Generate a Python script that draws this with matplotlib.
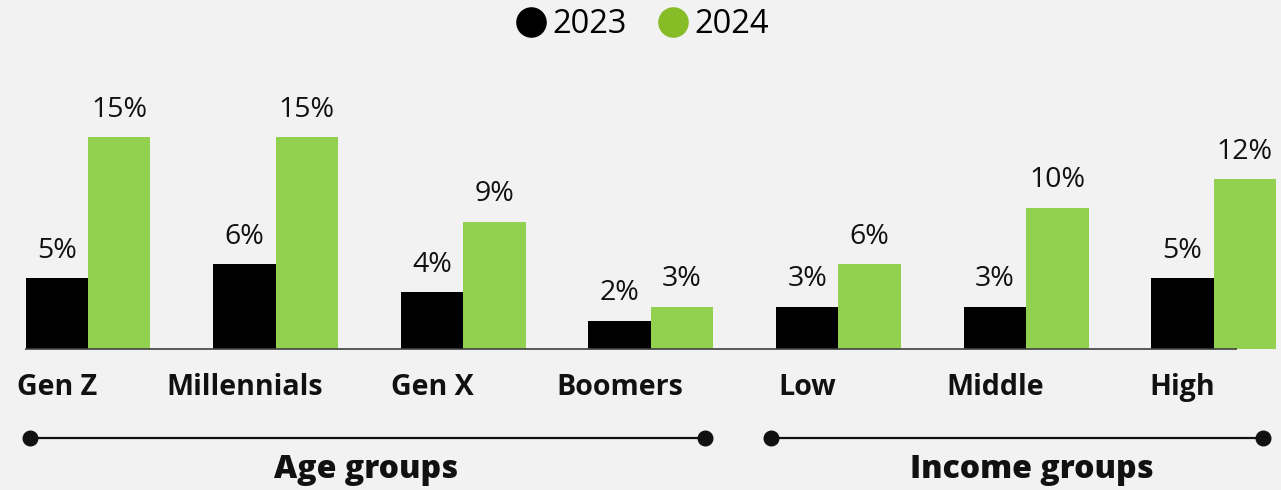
import matplotlib
matplotlib.use("Agg")
import matplotlib.pyplot as plt
from matplotlib.lines import Line2D
import numpy as np

plt.rcParams['font.family'] = ['Open Sans', 'DejaVu Sans']

categories = ["Gen Z", "Millennials", "Gen X", "Boomers", "Low", "Middle", "High"]
values_2023 = [5, 6, 4, 2, 3, 3, 5]
values_2024 = [15, 15, 9, 3, 6, 10, 12]
series_names = ["2023", "2024"]
group_names = ["Age groups", "Income groups"]

BG = "#f2f2f2"
C23 = "#000000"
C24 = "#92d050"
C24_LEG = "#86bc25"

fig = plt.figure(figsize=(12.81, 4.90), dpi=100)
fig.patch.set_facecolor(BG)
ax = fig.add_axes([0, 0, 1, 1])
ax.set_facecolor(BG)
ax.set_xlim(-0.469, 6.359)
ax.set_ylim(-9.98, 24.70)
ax.axis('off')

x = np.arange(len(categories))
w = 0.333
ax.bar(x - w, values_2023, width=w, align='edge', color=C23, zorder=2)
ax.bar(x, values_2024, width=w, align='edge', color=C24, zorder=2)

for xi, v in zip(x, values_2023):
    ax.text(xi - w / 2, v + 1.44, f"{v}%", ha='center', va='baseline', fontsize=20.5, color='#111111')
for xi, v in zip(x, values_2024):
    ax.text(xi + w / 2, v + 1.44, f"{v}%", ha='center', va='baseline', fontsize=20.5, color='#111111')

ax.hlines(0, -0.336, 6.125, color='#404040', linewidth=1.2, zorder=3)

for xi, c in zip(x, categories):
    ax.text(xi - w / 2, -3.26, c, ha='center', va='baseline', fontsize=20.6, fontweight='bold', color='#111111')

# group brackets
bracket_spans = [(-0.309, 3.289), (3.641, 6.263)]
label_x = [1.48, 5.03]
for (x0, x1), lx, name in zip(bracket_spans, label_x, group_names):
    ax.plot([x0, x1], [-6.30, -6.30], color='#111111', linewidth=1.6, zorder=3, clip_on=False)
    ax.plot([x0, x1], [-6.30, -6.30], linestyle='none', marker='o', markersize=10.5,
            color='#111111', zorder=4, clip_on=False)
    ax.text(lx, -9.10, name, ha='center', va='baseline', fontsize=23, fontweight='heavy', color='#111111')

handles = [Line2D([], [], linestyle='none', marker='o', markersize=21, color=C23, label=series_names[0]),
           Line2D([], [], linestyle='none', marker='o', markersize=21, color=C24_LEG, label=series_names[1])]
fig.legend(handles=handles, loc='center', bbox_to_anchor=(0.5016, 0.949), ncol=2, frameon=False,
           fontsize=23.5, handletextpad=0.21, columnspacing=0.95, handlelength=0.92, borderpad=0)

fig.savefig("out.png", dpi=100, facecolor=BG)
